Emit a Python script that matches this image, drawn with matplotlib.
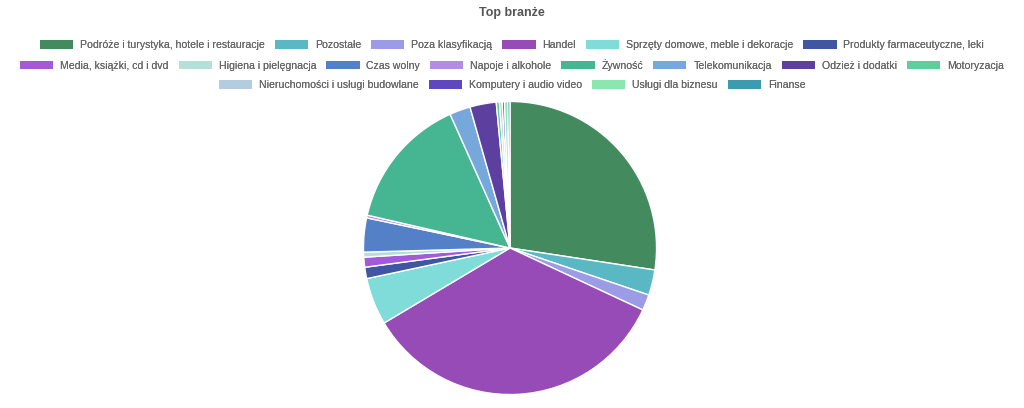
import matplotlib.pyplot as plt
from matplotlib.patches import Patch

plt.rcParams['font.family'] = ['Liberation Sans', 'DejaVu Sans']

labels = [
    'Podróże i turystyka, hotele i restauracje', 'Pozostałe', 'Poza klasyfikacją', 'Handel',
    'Sprzęty domowe, meble i dekoracje', 'Produkty farmaceutyczne, leki',
    'Media, książki, cd i dvd', 'Higiena i pielęgnacja', 'Czas wolny', 'Napoje i alkohole',
    'Żywność', 'Telekomunikacja', 'Odzież i dodatki', 'Motoryzacja',
    'Nieruchomości i usługi budowlane', 'Komputery i audio video', 'Usługi dla biznesu', 'Finanse',
]
values = [27.4, 2.8, 1.75, 34.5, 5.2, 1.25, 1.1, 0.55, 3.75, 0.3,
          14.7, 2.3, 2.9, 0.35, 0.3, 0.25, 0.35, 0.25]
colors = ['#438a5e', '#5ab8c4', '#9b9be6', '#964bb6', '#7fdcd9', '#3f56a0',
          '#a25ad8', '#b5e0d8', '#5480c8', '#b38ce6', '#45b592', '#76a8dc',
          '#5d3fa0', '#5dcf9a', '#b3cde0', '#5f47c0', '#8ce6b0', '#3d9bb0']
legend_rows = [6, 8, 4]

fig = plt.figure(figsize=(10.24, 4.08), dpi=100)
W, H = 1024, 408
cx, cy, r = 510, 248, 148
ax = fig.add_axes([(cx - r) / W, (H - cy - r) / H, 2 * r / W, 2 * r / H])
ax.pie(values, colors=colors, startangle=90, counterclock=False, radius=1,
       wedgeprops=dict(edgecolor='white', linewidth=1))
ax.set_xlim(-1.01, 1.01)
ax.set_ylim(-1.01, 1.01)
ax.set_aspect('equal')
ax.axis('off')

fig.text(0.5, 1 - 13 / H, 'Top branże', ha='center', va='center',
         fontsize=9, fontweight='bold', color='#555555')

# legend rows (flow layout like the original)
start = 0
row_y = [45, 65, 85]
for n, y in zip(legend_rows, row_y):
    handles = [Patch(facecolor=c, edgecolor='none') for c in colors[start:start + n]]
    leg = fig.legend(handles, labels[start:start + n], loc='center',
                     bbox_to_anchor=(0.5, 1 - y / H), ncol=n, frameon=False,
                     fontsize=7.6, handlelength=3.15, handleheight=0.85,
                     handletextpad=0.65, columnspacing=0.95, labelcolor='#666666')
    fig.add_artist(leg)
    start += n

fig.savefig('out.png', dpi=100, facecolor='white')
